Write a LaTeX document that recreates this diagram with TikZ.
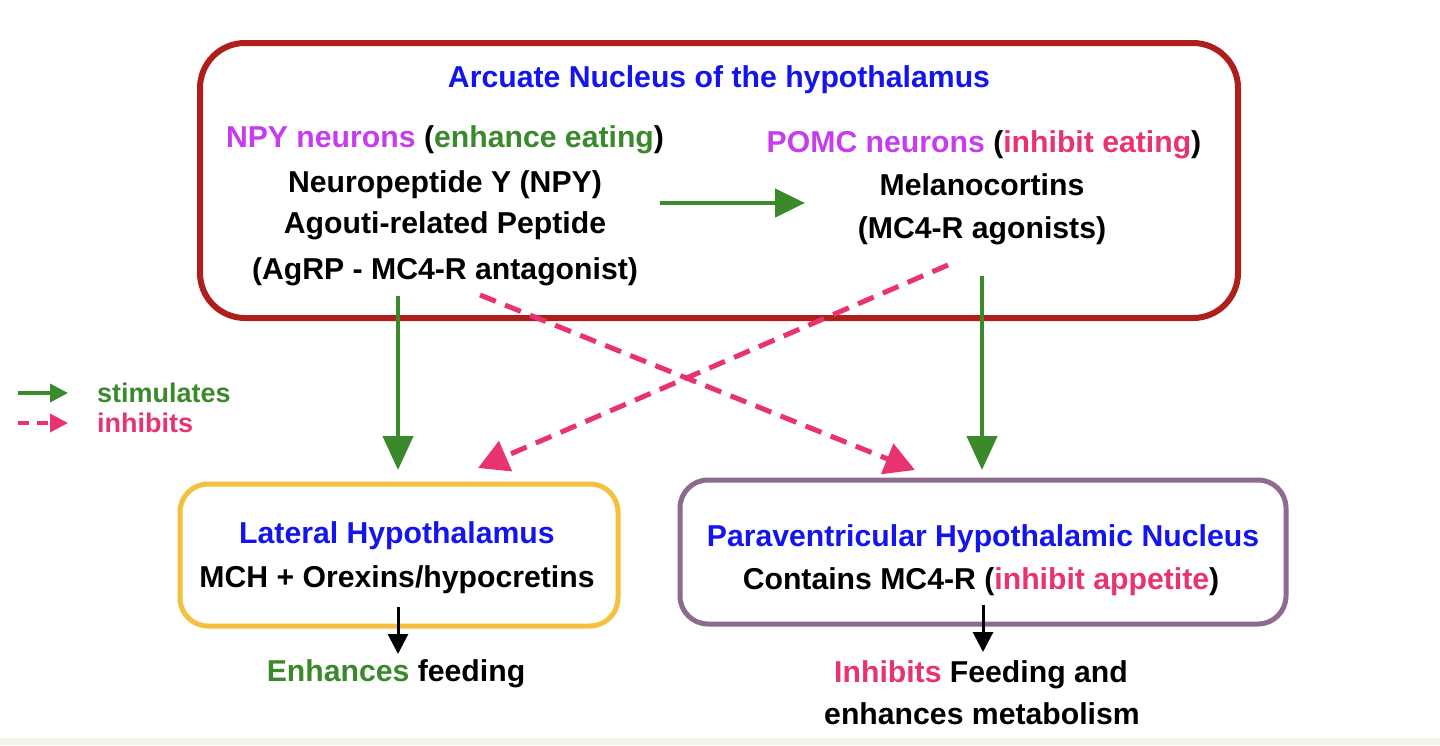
\documentclass[tikz,border=0pt]{standalone}
\usepackage{fontspec}
\setmainfont{Liberation Sans}
\usetikzlibrary{arrows.meta}
\definecolor{arcred}{HTML}{AE1F1C}
\definecolor{latgold}{HTML}{F4C13F}
\definecolor{pvnpurple}{HTML}{8E6A8E}
\definecolor{ttlblue}{HTML}{1414EE}
\definecolor{npypurple}{HTML}{C73CF0}
\definecolor{stimgreen}{HTML}{3A8A2B}
\definecolor{inhpink}{HTML}{E8336E}
\definecolor{stripgreen}{HTML}{F0F5E4}
\tikzset{
  txt/.style={inner sep=0pt, anchor=base, font=\fontsize{30.2}{35}\selectfont\bfseries},
  legtxt/.style={inner sep=0pt, anchor=base west, font=\fontsize{27}{31}\selectfont\bfseries},
  region/.style={draw, rounded corners=#1, fill=none, inner sep=0pt},
  stim/.style={draw=stimgreen, line width=4.5pt, -{Triangle[width=30pt,length=34pt]}},
  stimh/.style={draw=stimgreen, line width=4.5pt, -{Triangle[width=28pt,length=30pt]}},
  inh/.style={draw=inhpink, line width=5pt, dash pattern=on 17pt off 10pt, -{Triangle[width=32pt,length=30pt]}},
  legstim/.style={draw=stimgreen, line width=3.5pt, -{Triangle[width=18pt,length=18pt]}},
  leginh/.style={draw=inhpink, line width=3.5pt, dash pattern=on 11pt off 8pt, -{Triangle[width=18pt,length=18pt]}},
  outarrow/.style={draw=black, line width=3pt, -{Triangle[width=20pt,length=20pt]}},
}
\begin{document}
\begin{tikzpicture}[x=1pt,y=-1pt]
\useasboundingbox (0,0) rectangle (1440,745);
\fill[white] (0,0) rectangle (1440,745);
\fill[stripgreen] (0,738) rectangle (1440,745);

% boxes
\node[region=45pt, draw=arcred, line width=6pt, minimum width=1038pt, minimum height=275pt] (arc) at (719,180.5) {};
\node[region=28pt, draw=latgold, line width=5pt, minimum width=438pt, minimum height=142pt] (lat) at (399,555) {};
\node[region=28pt, draw=pvnpurple, line width=5pt, minimum width=606pt, minimum height=144pt] (pvn) at (983,552) {};

% arcuate texts
\node[txt, text=ttlblue] (arctitle) at (719,87) {Arcuate Nucleus of the hypothalamus};
\node[txt] (npyhead) at (445,147) {\textcolor{npypurple}{NPY neurons} (\textcolor{stimgreen}{enhance eating})};
\node[txt] (npy1) at (445,192) {Neuropeptide Y (NPY)};
\node[txt] (npy2) at (445,233) {Agouti-related Peptide};
\node[txt] (npy3) at (445,279) {(AgRP - MC4-R antagonist)};
\node[txt] (pomchead) at (984,152) {\textcolor{npypurple}{POMC neurons} (\textcolor{inhpink}{inhibit eating})};
\node[txt] (pomc1) at (982,195) {Melanocortins};
\node[txt] (pomc2) at (982,238) {(MC4-R agonists)};

% lateral texts
\node[txt, text=ttlblue] (lattitle) at (397,543) {Lateral Hypothalamus};
\node[txt] (lat1) at (397,587) {MCH + Orexins/hypocretins};
\node[txt] (latout) at (396,681) {\textcolor{stimgreen}{Enhances} feeding};

% pvn texts
\node[txt, text=ttlblue] (pvntitle) at (983,546) {Paraventricular Hypothalamic Nucleus};
\node[txt] (pvn1) at (981,589) {Contains MC4-R (\textcolor{inhpink}{inhibit appetite})};
\node[txt] (pvnout1) at (981,682) {\textcolor{inhpink}{Inhibits} Feeding and};
\node[txt] (pvnout2) at (982,724) {enhances metabolism};

% legend
\coordinate (ls1) at (18,393);
\coordinate (le1) at (68,393);
\coordinate (ls2) at (18,423);
\coordinate (le2) at (68,423);
\node[legtxt, text=stimgreen] (legstimtxt) at (97,402) {stimulates};
\node[legtxt, text=inhpink] (leginhtxt) at (97,432) {inhibits};
\draw[legstim] (ls1) -- (le1);
\draw[leginh] (ls2) -- (le2);

% connector end points
\coordinate (hs) at (660,203);
\coordinate (he) at (805,203);
\coordinate (ga) at (398,296);
\coordinate (gb) at (398,470);
\coordinate (gc) at (982,276);
\coordinate (gd) at (982,470);
\coordinate (pa) at (480,295);
\coordinate (pb) at (915,470);
\coordinate (pc) at (948,265);
\coordinate (pd) at (478,468);
\coordinate (ba) at (398,607);
\coordinate (bb) at (398,654);
\coordinate (bc) at (983,605);
\coordinate (bd) at (983,652);

\draw[stimh] (hs) -- (he);
\draw[stim] (ga) -- (gb);
\draw[stim] (gc) -- (gd);
\draw[inh] (pa) -- (pb);
\draw[inh] (pc) -- (pd);
\draw[outarrow] (ba) -- (bb);
\draw[outarrow] (bc) -- (bd);
\end{tikzpicture}
\end{document}
